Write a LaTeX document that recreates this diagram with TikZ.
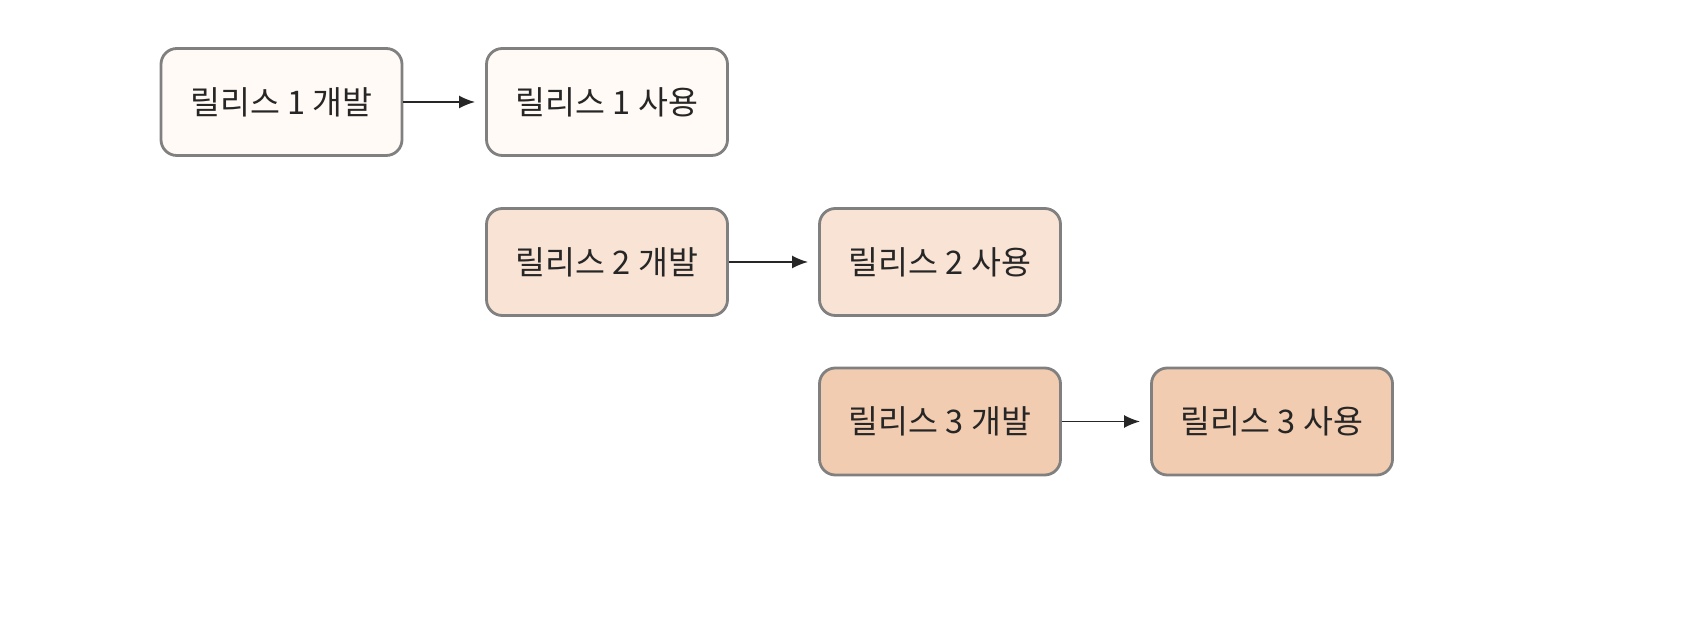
\documentclass[tikz,border=0pt]{standalone}
\usepackage{fontspec}
\setmainfont{Noto Sans CJK KR}
\usetikzlibrary{arrows.meta}
\begin{document}
\begin{tikzpicture}
		% définition des styles
		\tikzstyle{release}=[rectangle,draw=black!50,line width=1.6pt,rounded corners=9pt,minimum width=4.82cm,minimum height=2.14cm,text=black!85,font=\fontsize{18.5}{20}\selectfont]
		\tikzstyle{un}=[release,fill=orange!4]
		\tikzstyle{deux}=[release,fill={rgb,255:red,248;green,227;blue,212}]
		\tikzstyle{trois}=[release,fill={rgb,255:red,242;green,204;blue,176}]
		\tikzstyle{suit}=[-{Latex[length=0.32cm,width=0.26cm]},line width=1.1pt,black!85,shorten >=0.2cm]
		\useasboundingbox (0,0) rectangle (34.16,12.76);
		% les nœuds
		\node[un] (d1) at (5.63,10.72) {릴리스 1 개발};
		\node[un] (u1) at (12.14,10.72) {릴리스 1 사용};
		\node[deux] (d2) at (12.14,7.52) {릴리스 2 개발};
		\node[deux] (u2) at (18.80,7.52) {릴리스 2 사용};
		\node[trois] (d3) at (18.80,4.33) {릴리스 3 개발};
		\node[trois] (u3) at (25.44,4.33) {릴리스 3 사용};
		% les flèches
		\draw[suit] (d1) -- (u1);
		\draw[suit] (d2) -- (u2);
		\draw[suit] (d3) -- (u3);
	\end{tikzpicture}
\end{document}
